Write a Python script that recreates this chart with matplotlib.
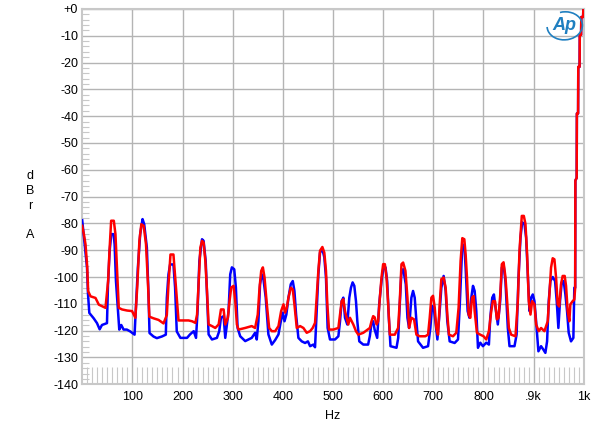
import matplotlib.pyplot as plt
from matplotlib.patches import Arc
from matplotlib.ticker import MultipleLocator, FixedLocator

plt.rcParams['font.family'] = ['Liberation Sans', 'DejaVu Sans']

# Espectro canal derecho/izquierdo (Hz, dBr)
red_hz = [0, 3.3, 6.6, 9.9, 11.9, 16.6, 26.5, 33.1, 39.8, 46.4, 51.7, 54.4, 57.7, 63, 66.3, 69.6, 72.9,
          79.5, 89.5, 99.4, 106, 110, 114, 117.9, 122.6, 127.2, 131.2, 133.9, 142.2, 152.2, 162.1, 168.7,
          172, 176, 181.9, 186.5, 190.5, 192, 212, 219, 225.6, 229, 232, 235.6, 238.9, 242, 245.5, 248.8,
          252, 258.7, 265.3, 272, 276.6, 281.9, 285.2, 290.5, 293.8, 297.1, 301.8, 305.1, 308.4, 311.7,
          325, 338, 344.7, 350, 353.6, 356.9, 360.2, 363.5, 368.1, 372.7, 378, 384.7, 391.3, 396.6, 401.3,
          404.6, 407.9, 411.2, 415.8, 419.8, 423.1, 427.8, 434.4, 441, 447.6, 454.3, 459.5, 464.2, 467.5,
          470.8, 474.1, 478.8, 482.7, 486, 488.7, 492, 500.7, 510.7, 514, 517.3, 520.6, 523.9, 530.5,
          533.8, 540.5, 545.8, 550.4, 560.4, 573.5, 576.8, 580.1, 583, 586.8, 590, 593.4, 596.7, 600,
          603.4, 606.7, 610, 613.3, 623.2, 629.8, 633.1, 636.5, 639.8, 644.4, 648.4, 651.7, 656.3, 661.6,
          666.3, 672.9, 684, 689.5, 692.8, 696.1, 699.4, 702.8, 706, 709.4, 712.7, 716, 720.6, 724.6,
          727.9, 731.2, 739.2, 745.8, 750.4, 754.4, 757.8, 761.8, 764.4, 767.1, 770.4, 773.7, 777.1,
          780.4, 782.4, 787, 793.6, 800.2, 805.5, 810.8, 815.5, 818.8, 823, 826.7, 830, 833.3, 836.6,
          840, 843.9, 847.2, 850.6, 855.2, 863.8, 868.5, 871.8, 876.4, 880.4, 883.7, 887, 890.3, 893.7,
          897, 901.6, 904.9, 910.2, 914.8, 921.5, 928.1, 931.4, 934.7, 938, 941.4, 944.7, 948, 951,
          954.6, 957.9, 961.9, 964.6, 967.9, 971.2, 973.2, 977.8, 981.1, 982.8,
          983.2, 985.8, 986.2, 988.6, 989, 991.6, 992, 994.6, 995, 998.6, 999, 1000]
red_db = [-80.9, -84, -87.8, -95.9, -105.3, -107.2, -107.8, -110.3, -110.9, -111.5, -101.5, -90.3, -79, -79,
          -84, -97.7, -111.5, -112.1, -112.5, -112.7, -115.2, -102.8, -86.5, -80.3, -80.9, -87.8, -102.8,
          -114.8, -115.4, -116, -117.3, -114.2, -102.8, -91.6, -91.6, -102.8, -112.8, -116.2, -116.2,
          -116.5, -117.1, -114, -102.7, -89, -86.5, -87.1, -94, -105.2, -117.7, -118.3, -119, -117.7,
          -112.1, -112.1, -117.7, -115.2, -108.9, -103.9, -103.3, -108.9, -117.7, -119.6, -119, -118.3,
          -119, -114, -103.9, -97.7, -96.4, -100.2, -110.2, -119, -120.2, -120.2, -118.3, -112.7, -110.2,
          -113.3, -111.4, -107.7, -104, -104.6, -110.2, -119, -118.3, -119, -120.8, -120.2, -119, -117.1,
          -107.7, -97.7, -90.2, -88.8, -90.9, -97.7, -110.2, -119.6, -119.6, -119, -114, -109, -108.3,
          -112.7, -117.7, -115.2, -117.7, -120.2, -121.5, -120.8, -119, -116.5, -114.6, -115, -117.7,
          -116.5, -107.7, -100.2, -95.2, -95.2, -100.2, -110.2, -121.5, -121.5, -119, -109, -95.2, -94.6,
          -97.7, -107.7, -119, -115.2, -115.8, -121.5, -122.1, -122.1, -121.5, -115.2, -107.7, -107,
          -111.4, -119, -121.5, -110.2, -100.8, -100.2, -104, -114, -121.5, -122.1, -120.8, -111.4, -94,
          -85.5, -85.9, -91.5, -100.2, -114, -115.2, -107.7, -107.1, -112.7, -120.8, -121.5, -122.1,
          -123.3, -120.2, -112.7, -109, -109, -115.8, -115.2, -107, -95.2, -94.5, -100.2, -109, -119,
          -121.5, -122.1, -109, -90.2, -77.2, -77.2, -80.2, -91.5, -109, -114, -109, -110.2, -117.7,
          -120.2, -119, -120.2, -116.5, -106.5, -96.5, -93, -93.4, -100.2, -110.2, -111, -102.7, -99.6,
          -99.6, -103.3, -112.7, -116.5, -110.2, -109, -108.4, -104,
          -64, -63, -39, -39, -21.6, -21.6, -9.7, -9.7, -3, -3, -0.4, 0]

blue_hz = [0, 6.3, 9.6, 11.6, 14.2, 22.9, 29.5, 34.8, 39.4, 49.4, 51.4, 54.7, 58, 62.6, 64.6, 67.3, 71.3,
           73.9, 77.9, 82.5, 89, 95.8, 104.4, 107, 111, 115.6, 120.3, 123.6, 128.9, 132.2, 134.2, 142.2,
           148.8, 158.7, 166.7, 168.7, 172, 175.3, 181.9, 185.2, 188.5, 195.8, 209, 215, 222.3, 226.9,
           230, 233.6, 238.9, 242, 246.2, 249.5, 252, 258.7, 268.6, 273.2, 276.6, 281.9, 285.2, 291.8,
           295.1, 298.4, 303.1, 306.4, 309.8, 315, 325, 338, 344.7, 348, 351.3, 354.6, 358, 361.3, 365.9,
           371.2, 378, 384.7, 391.3, 396, 400, 403.3, 407, 411.2, 415.8, 419.8, 423.1, 426.4, 431, 437.7,
           444.3, 450, 454.3, 460.9, 464.2, 467.5, 470.8, 474.1, 478.8, 482.7, 486, 489.3, 494, 504,
           510.7, 514, 517.3, 520.6, 523.9, 528.5, 532.5, 535.8, 539.1, 542.5, 545.8, 548.5, 552.4,
           560.4, 570, 573.5, 576.8, 580, 583, 588.1, 592.1, 596.7, 600, 604.7, 608, 611.3, 614.6, 626.6,
           630, 633.1, 636.5, 640, 645.1, 648.4, 651.7, 656.3, 659.6, 662.9, 666.3, 669.6, 679.5, 689.5,
           694.1, 697.5, 700.8, 704.1, 708.1, 712.7, 716, 720.6, 724.6, 727.9, 732.6, 742.5, 749.2,
           752.5, 755.8, 757.8, 761.8, 764.4, 768.4, 772, 775.7, 779.1, 782.4, 785.7, 789, 793.6, 798.9,
           805.5, 810.8, 813.5, 817.5, 820.8, 824, 828.6, 833.3, 836.6, 840, 843.9, 848.5, 851.9, 861.8,
           866, 869.8, 873.8, 877.1, 881.7, 885, 888.4, 891.7, 895, 898.3, 901.6, 904.9, 909.5, 914.8,
           919.5, 923.4, 926.8, 930.1, 933.4, 938, 942.7, 946, 949.3, 952.6, 956, 959.9, 963.3, 966.6,
           969.9, 974.5, 979.2, 981.1, 982.8,
           983.2, 985.8, 986.2, 988.6, 989, 991.6, 992, 994.6, 995, 998.6, 999, 1000]
blue_db = [-78.8, -90.3, -96.5, -106.5, -113.4, -115.4, -117.2, -119.5, -117.9, -117.2, -102.8, -90.3, -84,
           -84, -87.8, -101.5, -112.7, -119.6, -117.9, -119.6, -119.6, -120.3, -121.5, -111.5, -96.5, -84,
           -78.4, -80.3, -89, -106.5, -120.9, -122.2, -122.8, -122.2, -121.5, -107.8, -99, -95.3, -95.3,
           -104, -120.3, -122.7, -122.7, -121.4, -120.2, -122.7, -112.7, -94, -85.9, -86.5, -94, -110.2,
           -121.4, -123.3, -122.7, -120.2, -115.2, -114.6, -122.7, -112.7, -99, -96.4, -97.1, -103.9,
           -119, -122.1, -123.9, -122.7, -120.8, -123.3, -116.5, -102.7, -99, -100.8, -107.7, -121.4,
           -125.2, -123.5, -121.4, -116.5, -113.3, -116.5, -114, -107.7, -102.7, -101.5, -105.2, -114,
           -122.7, -124, -124.6, -124, -125.8, -125.2, -126.2, -112.7, -99, -90.9, -89.6, -92.7, -100.2,
           -119, -123.3, -123.3, -122.1, -116.5, -109, -107.7, -115.2, -117.7, -107.7, -104, -102,
           -103.3, -109, -116.5, -124, -125.2, -125.2, -122, -117.1, -116.5, -119.6, -122.7, -110.2,
           -101.5, -97.1, -96.4, -101.5, -115.2, -125.8, -126.4, -122.7, -110.2, -97.7, -97.1, -102.7,
           -115.2, -119, -107.7, -105.2, -107.7, -116.5, -124, -126.4, -125.8, -119, -110.8, -111.4,
           -116.5, -123.3, -112.7, -104, -99.6, -105.2, -116.5, -124, -124.6, -123.3, -111.4, -96.4,
           -87.8, -88.2, -96.5, -112.7, -115.2, -107.7, -103.3, -105.2, -112.7, -126.4, -124.5, -125.8,
           -124.5, -125.2, -115.2, -107.7, -106.5, -111.4, -117.7, -109, -96.5, -95.2, -102, -119,
           -125.8, -125.8, -121.5, -100.2, -85.3, -79.6, -80.2, -85.3, -99, -112.7, -107.7, -106.5,
           -109, -116.5, -127.7, -125.8, -127.1, -128.3, -124, -109, -101.5, -100, -101.5, -109, -119,
           -109, -102, -101.5, -106.5, -112.7, -120.8, -124, -122.7, -104, -104,
           -64, -63, -39, -39, -21.6, -21.6, -9.7, -9.7, -3, -3, -0.4, 0]

x_ticks = [100, 200, 300, 400, 500, 600, 700, 800, 900, 1000]
x_labels = ['100', '200', '300', '400', '500', '600', '700', '800', '.9k', '1k']
y_ticks = list(range(-140, 1, 10))
y_labels = ['+0' if v == 0 else str(v) for v in y_ticks]

fig = plt.figure(figsize=(6, 4.26), dpi=100)
ax = fig.add_axes([0.137, 0.098, 0.836, 0.881])

ax.plot(blue_hz, blue_db, color='#0000ff', lw=1.8, zorder=3)
ax.plot(red_hz, red_db, color='#ff0000', lw=1.8, zorder=4)

ax.set_xlim(0, 1000)
ax.set_ylim(-140, 0)
ax.set_xticks(x_ticks)
ax.set_xticklabels(x_labels)
ax.set_yticks(y_ticks)
ax.set_yticklabels(y_labels)
ax.tick_params(axis='both', which='major', length=0, labelsize=9, pad=3)
ax.tick_params(axis='x', which='major', pad=5)

# Marcas menores dentro del grafico
ax.xaxis.set_minor_locator(FixedLocator([v for v in range(10, 1000, 10) if v % 100 != 0]))
ax.yaxis.set_minor_locator(MultipleLocator(2))
ax.tick_params(axis='x', which='minor', direction='in', length=12, width=0.8, color='#c8c8c8')
ax.tick_params(axis='y', which='minor', direction='in', length=5, width=0.8, color='#c8c8c8')

ax.grid(True, which='major', color='#b4b4b4', lw=1)
ax.set_axisbelow(True)
for s in ax.spines.values():
    s.set_color('#c8c8c8')
    s.set_linewidth(1.5)

ax.set_xlabel('Hz', fontsize=9, labelpad=5)
fig.text(0.05, 0.6, 'd\nB\nr\n\nA', fontsize=9, ha='center', va='top', linespacing=1.3)

# Logo Ap
ax.text(0.962, 0.955, 'Ap', transform=ax.transAxes, fontsize=13, style='italic', weight='bold',
        color='#1f7fc0', ha='center', va='center')
ax.add_patch(Arc((0.962, 0.955), 0.07, 0.075, angle=-15, theta1=200, theta2=120,
                 transform=ax.transAxes, color='#1f7fc0', lw=1.2, zorder=5))

plt.savefig('out.png', dpi=100)
plt.close()
